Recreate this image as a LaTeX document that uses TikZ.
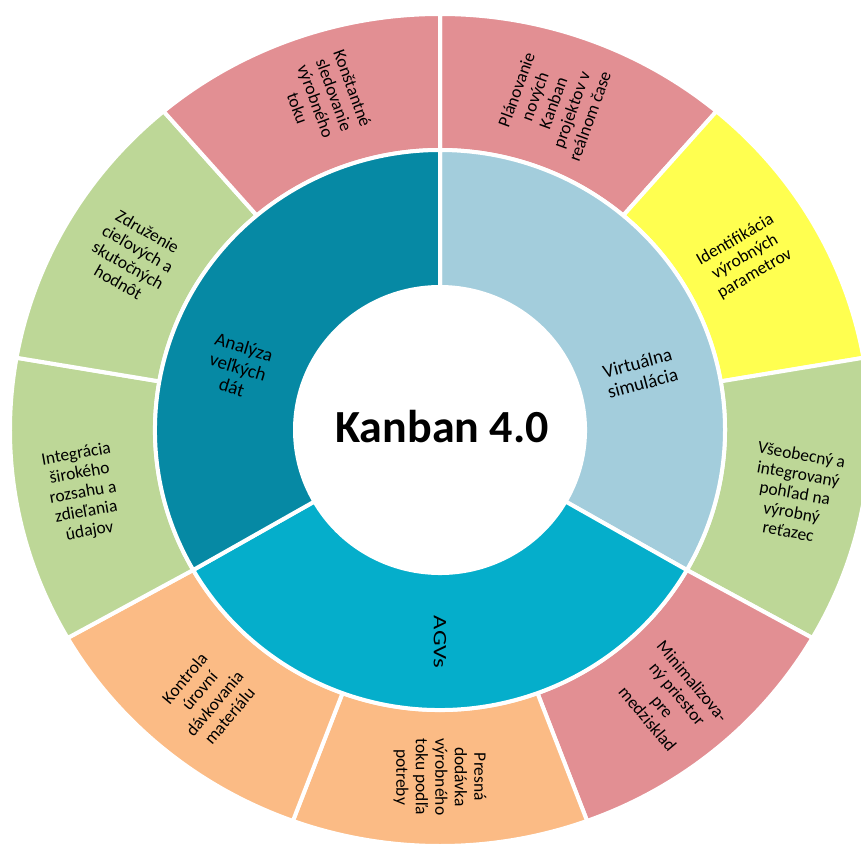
\documentclass[tikz,border=0pt]{standalone}
\usepackage{fontspec}
\setmainfont{Carlito}
\definecolor{segpink}{HTML}{E28F93}
\definecolor{segyellow}{HTML}{FFFF50}
\definecolor{seggreen}{HTML}{BDD797}
\definecolor{segorange}{HTML}{FBBB85}
\definecolor{simblue}{HTML}{A3CDDC}
\definecolor{agvteal}{HTML}{05AECB}
\definecolor{datateal}{HTML}{0689A4}
% annular sector: colour, start angle, end angle, inner x/y radius, outer x/y radius
\newcommand\ringsector[7]{%
  \path[seg, fill=#1] (#2:#6pt and #7pt)
    arc[start angle=#2, end angle=#3, x radius=#6pt, y radius=#7pt]
    -- (#3:#4pt and #5pt)
    arc[start angle=#3, end angle=#2, x radius=#4pt, y radius=#5pt] -- cycle;}
\begin{document}
\begin{tikzpicture}[x=1pt,y=1pt,
  seg/.style={draw=white, line width=4pt, line join=miter},
  outerlbl/.style={align=center, font=\fontsize{17.5}{19.5}\selectfont, inner sep=0pt},
  innerlbl/.style={align=center, font=\fontsize{19}{21}\selectfont, inner sep=0pt}]
\useasboundingbox (0,0) rectangle (861,849);
\clip (0,0) rectangle (861,849);
\begin{scope}[shift={(440,419)}]
  % outer ring
  \ringsector{segpink}{90}{50}{285}{280}{430}{416}
  \ringsector{segyellow}{50}{10}{285}{280}{430}{416}
  \ringsector{seggreen}{10}{-30}{285}{280}{430}{416}
  \ringsector{segpink}{-30}{-70}{285}{280}{430}{416}
  \ringsector{segorange}{-70}{-110}{285}{280}{430}{416}
  \ringsector{segorange}{-110}{-150}{285}{280}{430}{416}
  \ringsector{seggreen}{-150}{-190}{285}{280}{430}{416}
  \ringsector{seggreen}{-190}{-230}{285}{280}{430}{416}
  \ringsector{segpink}{-230}{-270}{285}{280}{430}{416}
  % inner ring
  \ringsector{simblue}{90}{-30}{145}{143}{285}{280}
  \ringsector{agvteal}{-30}{-150}{145}{143}{285}{280}
  \ringsector{datateal}{-150}{-270}{145}{143}{285}{280}

  % outer labels
  \node[outerlbl, rotate=70]  (plan) at (113,327)  {Plánovanie\\nových\\Kanban\\projektov v\\reálnom čase};
  \node[outerlbl, rotate=30]  (ident) at (305,173) {Identifikácia\\výrobných\\parametrov};
  \node[outerlbl, rotate=-10] (pohlad) at (355,-63) {Všeobecný a\\integrovaný\\pohľad na\\výrobný\\reťazec};
  \node[outerlbl, rotate=-50] (medzi) at (230,-270) {Minimalizova-\\ný priestor\\pre\\medzisklad};
  \node[outerlbl, rotate=-90] (dodavka) at (0,-347) {Presná\\dodávka\\výrobného\\toku podľa\\potreby};
  \node[outerlbl, rotate=50]  (kontrola) at (-233,-267) {Kontrola\\úrovní\\dávkovania\\materiálu};
  \node[outerlbl, rotate=10]  (integr) at (-357,-63) {Integrácia\\širokého\\rozsahu a\\zdieľania\\údajov};
  \node[outerlbl, rotate=-30] (zdruz) at (-307,173) {Združenie\\cieľových a\\skutočných\\hodnôt};
  \node[outerlbl, rotate=-70] (sled) at (-115,332) {Konštantné\\sledovanie\\výrobného\\toku};

  % inner labels
  \node[innerlbl, rotate=-17] (data) at (-202,63) {Analýza\\veľkých\\dát};
  \node[innerlbl, rotate=15]  (sim) at (200,57) {Virtuálna\\simulácia};
  \node[innerlbl, rotate=-90, xscale=1.3] (agv) at (0,-212) {AGVs};

  % centre title
  \node[font=\fontsize{46}{50}\selectfont\bfseries, inner sep=0pt] (title) at (2,3) {Kanban 4.0};
\end{scope}
\end{tikzpicture}
\end{document}
